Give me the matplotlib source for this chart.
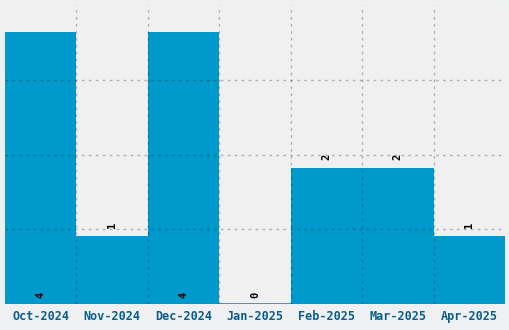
import matplotlib
matplotlib.use("Agg")
import matplotlib.pyplot as plt
from matplotlib.transforms import ScaledTranslation

categories = ["Oct-2024", "Nov-2024", "Dec-2024", "Jan-2025", "Feb-2025", "Mar-2025", "Apr-2025"]
values = [4, 1, 4, 0, 2, 2, 1]

fig = plt.figure(figsize=(5.1, 3.3), dpi=100, facecolor="#eef0f1")
ax = fig.add_axes([5/510, 26/330, 500/510, 299/330])
ax.set_facecolor("#f0f0f0")
x = list(range(len(categories)))
ax.bar(x, values, width=1.0, color="#0099cc", zorder=2)
ax.axhline(0, color="#0099cc", linewidth=1.2, zorder=2.5)
ax.set_xlim(-0.5, len(categories) - 0.5)
ymax = 4.4
ax.set_ylim(0, ymax)
ax.set_yticks([0, 1.1, 2.2, 3.3])
ax.set_xticks([i + 0.5 for i in x[:-1]], minor=True)
ax.set_xticks(x)
ax.set_xticklabels(categories, family="DejaVu Sans Mono", fontweight="bold",
                   fontsize=8.5, color="#0a5d8c")
off = ScaledTranslation(-4.5/100, 0, fig.dpi_scale_trans)
for lab in ax.get_xticklabels():
    lab.set_transform(lab.get_transform() + off)
ax.tick_params(axis="x", which="both", length=0, pad=4)
ax.tick_params(axis="y", length=0, labelleft=False)
ax.grid(True, axis="y", which="major", color="black", alpha=0.25, linestyle=(0, (2, 3)), linewidth=1, zorder=3)
ax.grid(True, axis="x", which="minor", color="black", alpha=0.25, linestyle=(0, (2, 3)), linewidth=1, zorder=3)
ax.grid(False, axis="x", which="major")
for s in ax.spines.values():
    s.set_visible(False)
ax.set_axisbelow(False)

for xi, v in zip(x, values):
    if v + 0.5 > ymax or v == 0:
        ax.annotate(str(v), (xi, 0), xytext=(0, 4), textcoords="offset points",
                    rotation=90, ha="center", va="bottom", fontsize=7.5,
                    family="DejaVu Sans Mono", fontweight="bold", color="black", zorder=4)
    else:
        ax.annotate(str(v), (xi, v), xytext=(0, 5.5), textcoords="offset points",
                    rotation=90, ha="center", va="bottom", fontsize=7.5,
                    family="DejaVu Sans Mono", fontweight="bold", color="black", zorder=4)

fig.savefig("out.png", dpi=100, facecolor=fig.get_facecolor())
